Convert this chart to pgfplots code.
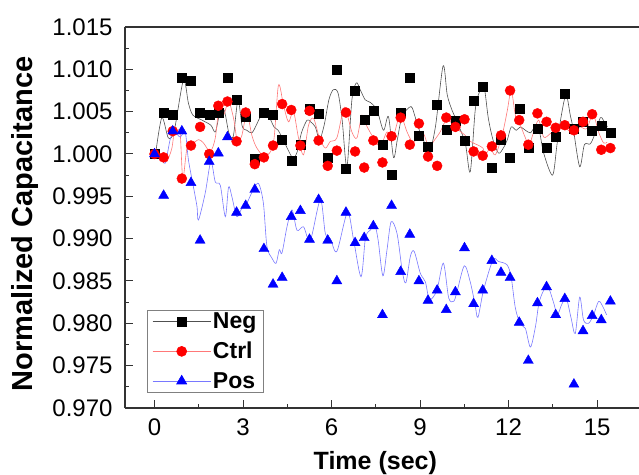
\documentclass[border=0pt]{standalone}
\usepackage{pgfplots}
\usepackage{pgfplotstable}
\pgfplotsset{compat=1.18}
\usepackage{fontspec}
\setmainfont{Liberation Sans}
\definecolor{negline}{RGB}{80,80,80}
\definecolor{ctrlline}{RGB}{255,120,120}
\definecolor{posline}{RGB}{120,120,255}

\pgfplotstableread{
x neg ctrl pos
0.000 1.0000 1.0000 1.0000
0.309 1.0049 0.9996 0.9951
0.618 1.0047 1.0027 1.0027
0.927 1.0090 0.9971 1.0027
1.236 1.0086 1.0010 0.9966
1.545 1.0049 1.0032 0.9898
1.854 1.0047 1.0000 0.9991
2.163 1.0049 1.0057 1.0001
2.472 1.0090 1.0062 1.0020
2.781 1.0064 1.0015 0.9931
3.090 1.0044 1.0049 0.9939
3.399 0.9994 0.9988 0.9958
3.708 1.0049 0.9996 0.9888
4.017 1.0046 1.0010 0.9846
4.326 1.0017 1.0059 0.9854
4.635 0.9992 1.0052 0.9926
4.944 1.0011 1.0010 0.9933
5.253 1.0054 1.0051 0.9899
5.562 1.0048 1.0016 0.9946
5.871 0.9996 0.9986 0.9898
6.180 1.0100 1.0004 0.9850
6.489 0.9983 1.0049 0.9931
6.798 1.0075 1.0003 0.9895
7.107 1.0040 0.9984 0.9901
7.416 1.0051 1.0016 0.9915
7.725 1.0011 0.9990 0.9810
8.034 0.9975 1.0021 0.9939
8.343 1.0049 1.0043 0.9861
8.652 1.0090 1.0011 0.9905
8.961 1.0022 1.0036 0.9850
9.270 1.0009 0.9997 0.9827
9.579 1.0058 0.9986 0.9839
9.888 1.0029 1.0043 0.9816
10.197 1.0039 1.0032 0.9837
10.506 1.0016 1.0041 0.9889
10.815 1.0063 1.0003 0.9823
11.124 1.0080 0.9998 0.9839
11.433 0.9984 1.0009 0.9874
11.742 1.0017 1.0022 0.9860
12.051 0.9996 1.0075 0.9854
12.360 1.0054 1.0040 0.9801
12.669 1.0007 1.0011 0.9756
12.978 1.0030 1.0048 0.9824
13.287 1.0007 1.0038 0.9843
13.596 1.0020 1.0031 0.9810
13.905 1.0071 1.0034 0.9829
14.214 1.0030 1.0028 0.9728
14.523 1.0038 1.0038 0.9791
14.832 1.0028 1.0047 0.9809
15.141 1.0033 1.0005 0.9804
15.450 1.0025 1.0007 0.9826
}\markers

\begin{document}
\begin{tikzpicture}
\begin{axis}[
  at={(0,0)}, anchor=south west,
  scale only axis, width=514bp, height=381bp,
  xmin=-1, xmax=16.42, ymin=0.970, ymax=1.015,
  axis x line*=box, axis y line*=left,
  axis line style={line width=1.3bp, black!80},
  xtick={0,3,6,9,12,15}, minor x tick num=1,
  ytick={0.970,0.975,0.980,0.985,0.990,0.995,1.000,1.005,1.010,1.015},
  minor y tick num=1,
  xtick pos=bottom, ytick pos=left,
  tick align=inside,
  major tick length=8bp, minor tick length=4bp,
  every tick/.style={line width=1bp, black!80},
  scaled y ticks=false,
  /pgf/number format/assume math mode=true,
  ticklabel style={font=\fontsize{24bp}{28bp}\selectfont},
  yticklabel style={/pgf/number format/fixed, /pgf/number format/fixed zerofill, /pgf/number format/precision=3, xshift=-9bp},
  xticklabel style={yshift=-7bp},
  xlabel={Time (sec)},
  ylabel={Normalized Capacitance},
  xlabel style={font=\bfseries\fontsize{25bp}{29bp}\selectfont, at={(axis description cs:0.487,-0.144)}, anchor=center},
  ylabel style={font=\bfseries\fontsize{29bp}{33bp}\selectfont, at={(axis description cs:-0.1946,0.483)}, anchor=center},
  legend style={at={(axis description cs:0.0428,0.039)}, anchor=south west,
    draw=gray, line width=0.8bp, font=\bfseries\fontsize{23bp}{27bp}\selectfont,
    inner xsep=5bp, inner ysep=1bp, row sep=8bp},
  legend cell align=left,
  legend image code/.code={\draw[mark repeat=2,mark phase=2,#1] plot coordinates {(0bp,0bp) (29bp,0bp) (58bp,0bp)};},
]
\addlegendimage{negline, line width=0.6bp, mark=square*, mark size=4.5bp, mark options={solid, fill=black, draw=black}}
\addlegendentry{Neg}
\addlegendimage{ctrlline, line width=0.6bp, mark=*, mark size=5bp, mark options={solid, fill=red, draw=red}}
\addlegendentry{Ctrl}
\addlegendimage{posline, line width=0.6bp, mark=triangle*, mark size=5.8bp, mark options={solid, fill=blue, draw=blue}}
\addlegendentry{Pos}

% Neg line
\addplot[negline, line width=0.6bp, smooth, tension=0.5, forget plot] coordinates {
(0.04,1.0001) (0.25,1.0043) (0.47,1.0019) (0.67,1.0028) (0.98,1.0087) (1.15,1.0060) (1.30,1.0046) (1.61,1.0040) (1.91,1.0034) (2.06,1.0026) (2.20,1.0046) (2.36,1.0052) (2.52,1.0025) (2.67,1.0021) (2.83,1.0064) (2.97,1.0033) (3.13,1.0028) (3.30,1.0025) (3.45,1.0034) (3.58,1.0043) (3.81,1.0048) (4.05,1.0032) (4.19,1.0028) (4.36,1.0017) (4.67,0.9996) (4.83,1.0002) (4.98,1.0025) (5.17,1.0040) (5.29,1.0038) (5.45,1.0032) (5.59,1.0017) (5.75,1.0034) (5.91,1.0064) (6.06,1.0076) (6.22,1.0072) (6.36,1.0040) (6.52,0.9985) (6.69,1.0064) (6.84,1.0084) (6.97,1.0076) (7.14,1.0064) (7.31,1.0061) (7.54,1.0052) (7.76,1.0028) (7.93,1.0044) (8.10,0.9996) (8.23,1.0017) (8.39,1.0044) (8.69,1.0056) (8.84,1.0043) (9.01,1.0025) (9.31,1.0005) (9.52,1.0032) (9.78,1.0104) (9.92,1.0070) (10.08,1.0052) (10.23,1.0040) (10.53,1.0013) (10.70,0.9979) (10.87,1.0052) (11.01,1.0073) (11.17,1.0079) (11.31,1.0043) (11.47,1.0017) (11.66,1.0001) (11.82,1.0007) (11.96,1.0017) (12.09,1.0032) (12.26,1.0028) (12.40,1.0032) (12.57,1.0028) (12.74,1.0025) (12.87,1.0031) (13.02,1.0031) (13.19,1.0001) (13.49,0.9975) (13.64,1.0011) (13.79,1.0046) (13.95,1.0070) (14.09,1.0046) (14.20,1.0028) (14.41,0.9985) (14.57,1.0011) (14.77,1.0012) (14.94,1.0025) (15.11,1.0043) (15.21,1.0040) (15.35,1.0032)
};
% Ctrl line
\addplot[ctrlline, line width=0.6bp, smooth, tension=0.5, forget plot] coordinates {
(0.02,1.0001) (0.31,0.9995) (0.42,0.9991) (0.59,1.0007) (0.67,1.0027) (0.76,1.0028) (0.87,1.0024) (0.96,0.9971) (1.10,1.0007) (1.27,1.0011) (1.49,1.0017) (1.66,1.0013) (1.89,1.0003) (2.06,1.0019) (2.20,1.0058) (2.34,1.0046) (2.51,1.0062) (2.68,1.0042) (2.81,1.0015) (2.96,1.0022) (3.13,1.0048) (3.30,1.0022) (3.47,1.0007) (3.75,0.9997) (4.03,1.0013) (4.20,1.0081) (4.37,1.0058) (4.54,1.0038) (4.71,1.0050) (4.88,1.0019) (5.05,0.9999) (5.22,1.0034) (5.39,1.0042) (5.59,1.0019) (5.79,1.0007) (5.96,1.0015) (6.18,1.0019) (6.41,1.0054) (6.52,1.0048) (6.69,1.0026) (6.86,1.0019) (7.03,1.0046) (7.18,1.0034) (7.42,1.0019) (7.65,1.0009) (7.88,1.0026) (8.08,1.0020) (8.27,1.0042) (8.39,1.0043) (8.56,1.0026) (8.78,1.0013) (8.95,1.0026) (9.12,1.0024) (9.31,1.0007) (9.46,1.0015) (9.68,1.0026) (9.92,1.0042) (10.14,1.0032) (10.31,1.0028) (10.53,1.0022) (10.70,1.0015) (10.93,1.0011) (11.13,1.0007) (11.21,0.9999) (11.38,1.0007) (11.55,0.9999) (11.78,1.0022) (11.95,1.0050) (12.09,1.0075) (12.23,1.0046) (12.40,1.0034) (12.57,1.0019) (12.70,1.0011) (12.85,1.0026) (13.02,1.0040) (13.19,1.0020) (13.41,1.0024) (13.64,1.0031) (13.86,1.0032) (14.03,1.0028) (14.24,1.0028) (14.42,1.0032) (14.65,1.0030) (14.86,1.0047) (15.05,1.0026) (15.22,1.0013) (15.34,1.0014)
};
% Pos line
\addplot[posline, line width=0.6bp, smooth, tension=0.5, forget plot] coordinates {
(0.04,1.0001) (0.19,0.9999) (0.36,0.9989) (0.53,1.0017) (0.67,1.0026) (0.87,1.0020) (1.04,1.0026) (1.15,0.9993) (1.32,0.9961) (1.44,0.9938) (1.49,0.9922) (1.72,0.9954) (1.91,0.9991) (2.06,0.9967) (2.23,0.9963) (2.40,0.9926) (2.51,0.9961) (2.62,0.9950) (2.79,0.9926) (2.96,0.9936) (3.13,0.9942) (3.36,0.9959) (3.53,0.9965) (3.69,0.9942) (3.81,0.9891) (3.98,0.9877) (4.12,0.9871) (4.23,0.9887) (4.32,0.9883) (4.49,0.9914) (4.66,0.9934) (4.83,0.9910) (5.05,0.9914) (5.28,0.9898) (5.62,0.9946) (5.79,0.9906) (5.96,0.9900) (6.18,0.9885) (6.54,0.9931) (6.75,0.9898) (7.00,0.9855) (7.15,0.9901) (7.31,0.9910) (7.47,0.9915) (7.58,0.9898) (7.74,0.9856) (7.88,0.9887) (8.02,0.9920) (8.22,0.9906) (8.40,0.9861) (8.52,0.9848) (8.67,0.9879) (8.80,0.9885) (9.01,0.9859) (9.18,0.9849) (9.32,0.9828) (9.57,0.9839) (9.79,0.9871) (9.97,0.9830) (10.14,0.9826) (10.25,0.9837) (10.50,0.9868) (10.70,0.9849) (10.86,0.9823) (10.96,0.9807) (11.15,0.9839) (11.47,0.9875) (11.66,0.9873) (11.95,0.9869) (12.09,0.9854) (12.23,0.9818) (12.40,0.9799) (12.57,0.9794) (12.74,0.9772) (12.91,0.9796) (13.03,0.9824) (13.19,0.9839) (13.34,0.9843) (13.53,0.9824) (13.65,0.9810) (13.81,0.9823) (13.96,0.9829) (14.12,0.9806) (14.26,0.9788) (14.41,0.9831) (14.54,0.9804) (14.71,0.9800) (14.88,0.9810) (15.05,0.9826) (15.19,0.9820) (15.32,0.9810)
};
% markers
\addplot[only marks, mark=square*, mark size=4.5bp, mark options={fill=black, draw=black}, forget plot] table[x=x, y=neg] {\markers};
\addplot[only marks, mark=*, mark size=5bp, mark options={fill=red, draw=red}, forget plot] table[x=x, y=ctrl] {\markers};
\addplot[only marks, mark=triangle*, mark size=5.8bp, mark options={fill=blue, draw=blue}, forget plot] table[x=x, y=pos] {\markers};
\end{axis}
\pgfresetboundingbox
\path[use as bounding box] (-125bp,-67bp) rectangle (514bp,408bp);
\end{tikzpicture}
\end{document}
